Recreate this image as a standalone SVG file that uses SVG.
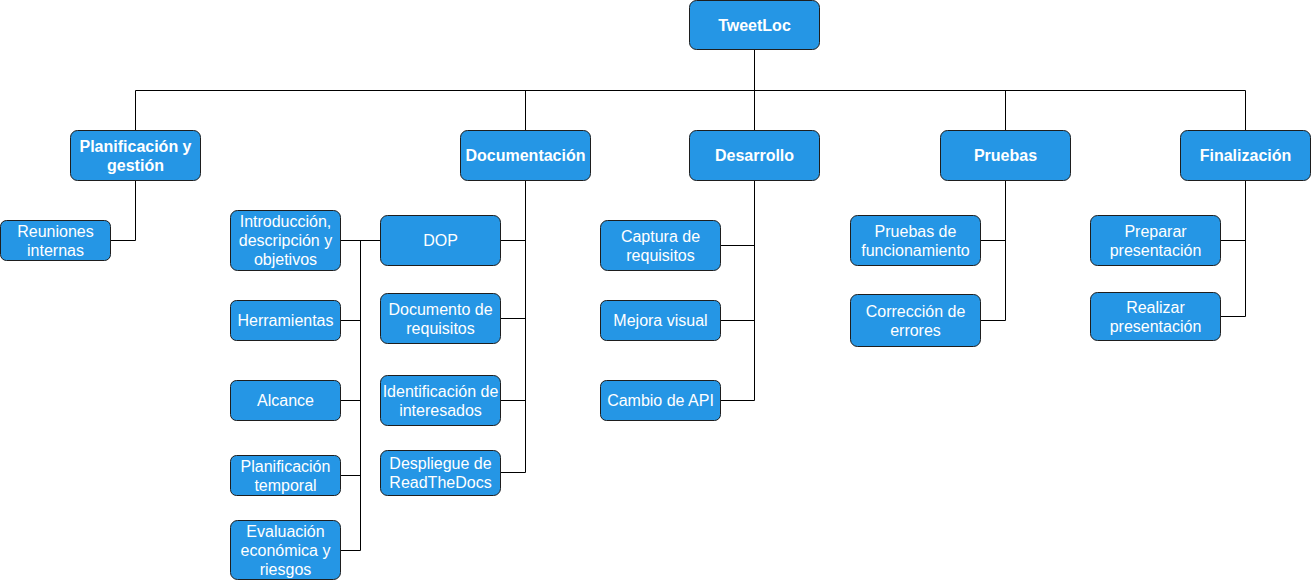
<svg xmlns="http://www.w3.org/2000/svg" width="1311" height="581" viewBox="0 0 1311 581">
<style>
.n rect{fill:#2596e5;stroke:#1e1e1e;stroke-width:1}
.n text{fill:#fff;font-family:"Liberation Sans",Arial,sans-serif;font-size:16px;text-anchor:middle}
.b text{font-weight:bold}
#connectors path{fill:none;stroke:#000;stroke-width:1}
</style>
<rect width="1311" height="581" fill="#fff"/>
<g id="connectors">
<path d="M754.5 49.5V90.5M135.5 90.5H1245.5M135.5 90.5V130.5M525.5 90.5V130.5M754.5 90.5V130.5M1005.5 90.5V130.5M1245.5 90.5V130.5"/>
<path d="M135.5 180.5V240.5H110.5"/>
<path d="M525.5 180.5V472.5M500.5 240.5H525.5M500.5 318.5H525.5M500.5 400.5H525.5M500.5 472.5H525.5"/>
<path d="M380.5 240.5H340.5M360.5 240.5V550.5M340.5 320.5H360.5M340.5 400.5H360.5M340.5 475.5H360.5M340.5 550.5H360.5"/>
<path d="M754.5 180.5V400.5M720.5 245.5H754.5M720.5 320.5H754.5M720.5 400.5H754.5"/>
<path d="M1005.5 180.5V320.5M980.5 240.5H1005.5M980.5 320.5H1005.5"/>
<path d="M1245.5 180.5V316.5M1220.5 240.5H1245.5M1220.5 316.5H1245.5"/>
</g>
<g id="root" class="n b"><rect x="689.5" y="0.5" width="130" height="49" rx="7"/><text x="754.5" y="31">TweetLoc</text></g>
<g id="plan" class="n b"><rect x="70.5" y="130.5" width="130" height="50" rx="7"/><text x="135.5" y="151.5">Planificación y</text><text x="135.5" y="170.5">gestión</text></g>
<g id="doc" class="n b"><rect x="460.5" y="130.5" width="130" height="50" rx="7"/><text x="525.5" y="161">Documentación</text></g>
<g id="des" class="n b"><rect x="689.5" y="130.5" width="130" height="50" rx="7"/><text x="754.5" y="161">Desarrollo</text></g>
<g id="pru" class="n b"><rect x="940.5" y="130.5" width="130" height="50" rx="7"/><text x="1005.5" y="161">Pruebas</text></g>
<g id="fin" class="n b"><rect x="1180.5" y="130.5" width="130" height="50" rx="7"/><text x="1245.5" y="161">Finalización</text></g>
<g id="reu" class="n"><rect x="0.5" y="220.5" width="110" height="40" rx="6"/><text x="55.5" y="236.5">Reuniones</text><text x="55.5" y="255.5">internas</text></g>
<g id="intro" class="n"><rect x="230.5" y="210.5" width="110" height="60" rx="7"/><text x="285.5" y="227">Introducción,</text><text x="285.5" y="246">descripción y</text><text x="285.5" y="265">objetivos</text></g>
<g id="herr" class="n"><rect x="230.5" y="300.5" width="110" height="40" rx="6"/><text x="285.5" y="326">Herramientas</text></g>
<g id="alc" class="n"><rect x="230.5" y="380.5" width="110" height="40" rx="6"/><text x="285.5" y="406">Alcance</text></g>
<g id="plt" class="n"><rect x="230.5" y="455.5" width="110" height="40" rx="6"/><text x="285.5" y="471.5">Planificación</text><text x="285.5" y="490.5">temporal</text></g>
<g id="eval" class="n"><rect x="230.5" y="520.5" width="110" height="59" rx="7"/><text x="285.5" y="537">Evaluación</text><text x="285.5" y="556">económica y</text><text x="285.5" y="575">riesgos</text></g>
<g id="dop" class="n"><rect x="380.5" y="215.5" width="120" height="50" rx="7"/><text x="440.5" y="246">DOP</text></g>
<g id="docreq" class="n"><rect x="380.5" y="293.5" width="120" height="50" rx="7"/><text x="440.5" y="314.5">Documento de</text><text x="440.5" y="333.5">requisitos</text></g>
<g id="ident" class="n"><rect x="380.5" y="375.5" width="120" height="50" rx="7"/><text x="440.5" y="396.5">Identificación de</text><text x="440.5" y="415.5">interesados</text></g>
<g id="despl" class="n"><rect x="380.5" y="450.5" width="120" height="45" rx="7"/><text x="440.5" y="469">Despliegue de</text><text x="440.5" y="488">ReadTheDocs</text></g>
<g id="cap" class="n"><rect x="600.5" y="220.5" width="120" height="50" rx="7"/><text x="660.5" y="241.5">Captura de</text><text x="660.5" y="260.5">requisitos</text></g>
<g id="mej" class="n"><rect x="600.5" y="300.5" width="120" height="40" rx="6"/><text x="660.5" y="326">Mejora visual</text></g>
<g id="cam" class="n"><rect x="600.5" y="380.5" width="120" height="40" rx="6"/><text x="660.5" y="406">Cambio de API</text></g>
<g id="pf" class="n"><rect x="850.5" y="215.5" width="130" height="50" rx="7"/><text x="915.5" y="236.5">Pruebas de</text><text x="915.5" y="255.5">funcionamiento</text></g>
<g id="cor" class="n"><rect x="850.5" y="294.5" width="130" height="52" rx="7"/><text x="915.5" y="316.5">Corrección de</text><text x="915.5" y="335.5">errores</text></g>
<g id="prep" class="n"><rect x="1090.5" y="215.5" width="130" height="50" rx="7"/><text x="1155.5" y="236.5">Preparar</text><text x="1155.5" y="255.5">presentación</text></g>
<g id="real" class="n"><rect x="1090.5" y="292.5" width="130" height="48" rx="7"/><text x="1155.5" y="312.5">Realizar</text><text x="1155.5" y="331.5">presentación</text></g>
</svg>
